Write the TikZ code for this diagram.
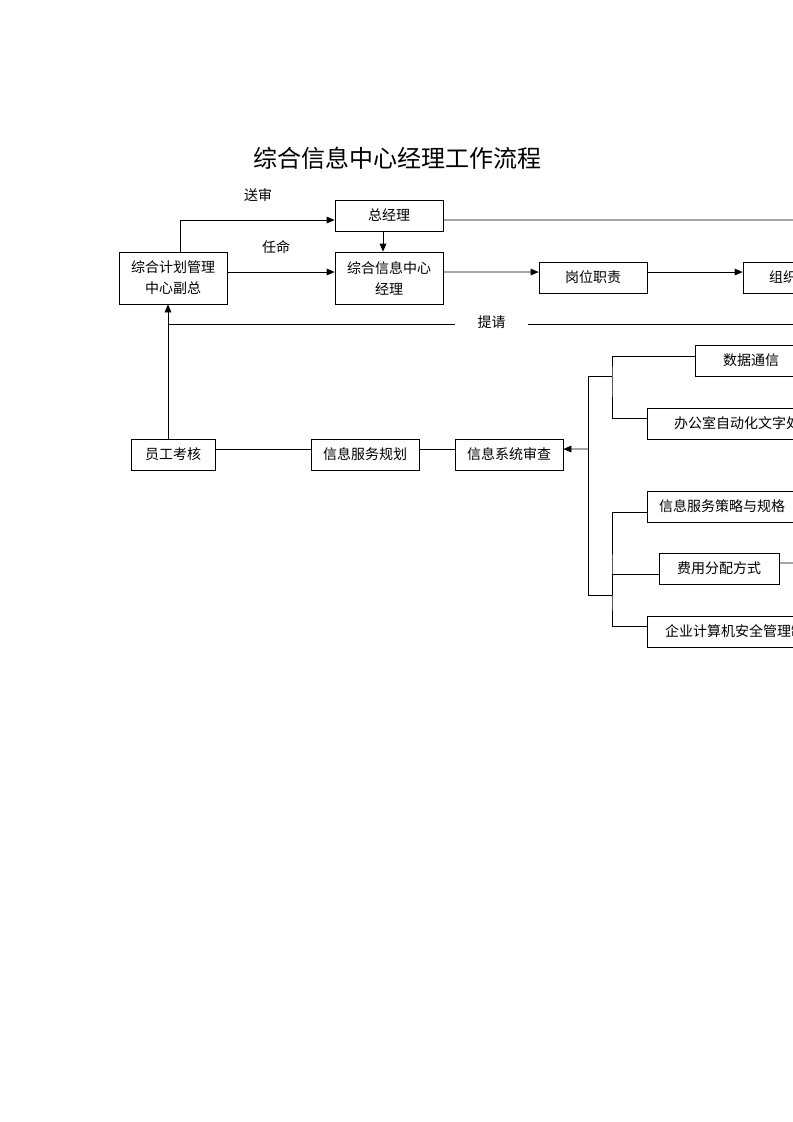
\documentclass[tikz,border=0pt]{standalone}
\usepackage{fontspec}
\setmainfont{Noto Sans CJK SC}
\newfontfamily\titlefont{Noto Sans CJK SC}
\usepackage{tikz}
\usetikzlibrary{calc,arrows.meta,positioning}
\tikzset{
  ln/.style={line width=0.6pt,black},
  ar/.style={ln,-{Triangle[length=6pt,width=5pt]}},
  box/.style={draw,line width=0.6pt,align=center,inner sep=0pt,minimum width=81pt,minimum height=23.25pt,font=\fontsize{10.5}{15.75}\selectfont},
  tall/.style={box,minimum height=39pt},
  lbl/.style={font=\fontsize{10.5}{15.75}\selectfont,inner sep=0pt}
}

\begin{document}
\begin{tikzpicture}[x=0.75pt,y=-0.75pt]
\useasboundingbox (0,0) rectangle (793,1122);
\clip (0,0) rectangle (793,1122);
\node[font=\titlefont\fontsize{18}{20}\selectfont] (title) at (397,158) {综合信息中心经理工作流程};
\node[box] (zjl) at (389,215.5) {总经理};
\node[tall] (fz) at (173,278) {综合计划管理\\中心副总};
\node[tall] (jl) at (389,278) {综合信息中心\\经理};
\node[box] (gw) at (593,277.5) {岗位职责};
\node[box] (zz) at (797,277.5) {组织结构};
\node[box,minimum width=63pt] (yg) at (173,454.5) {员工考核};
\node[box] (gh) at (365,454.5) {信息服务规划};
\node[box] (sc) at (509,454.5) {信息系统审查};
\node[box,minimum width=84pt] (sj) at (751,360.5) {数据通信};
\node[box,minimum width=145.5pt] (bg) at (744,423.5) {办公室自动化文字处理};
\node[box,minimum width=112.5pt] (cl) at (722,506.5) {信息服务策略与规格};
\node[box,minimum width=90pt] (fy) at (719,568.5) {费用分配方式};
\node[box,minimum width=142.5pt] (aq) at (742,631.5) {企业计算机安全管理制度};
\node[lbl] (ss) at (258,195) {送审};
\node[lbl] (rm) at (276,247) {任命};
\node[lbl,minimum width=54.75pt] (tq) at (491.5,324) {\raisebox{3pt}{提请}};
\coordinate (r1) at (800,220);
\coordinate (r2) at (800,324);
\coordinate (r3) at (800,563);
\coordinate (up) at ([xshift=-3.75pt]fz.south);
\coordinate (b0) at (588,449);
\coordinate (bt) at (588,376);
\coordinate (bb) at (588,595);
\coordinate (u1) at (612,376);
\coordinate (l1) at (612,595);
\draw[ar] ([xshift=5.25pt]fz.north) |- ([yshift=-3.4pt]zjl.west);
\draw[ln] ([yshift=-3.4pt]zjl.east) -- (r1);
\draw[ar] ([xshift=-4.5pt]zjl.south) -- ([xshift=-4.5pt]jl.north);
\draw[ar] ([yshift=4.5pt]fz.east) -- ([yshift=4.5pt]jl.west);
\draw[ar] ([yshift=4.5pt]jl.east) -- ([yshift=4.1pt]gw.west);
\draw[ar] ([yshift=4.1pt]gw.east) -- ([yshift=4.1pt]zz.west);
\draw[ln] (r2) -- (tq.east);
\draw[ln] (tq.west) -- (tq.west -| up);
\draw[ar] ([xshift=-3.75pt]yg.north) -- (up);
\draw[ln] ([yshift=4.1pt]yg.east) -- ([yshift=4.1pt]gh.west);
\draw[ln] ([yshift=4.1pt]gh.east) -- ([yshift=4.1pt]sc.west);
\draw[ar] (b0) -- ([yshift=4.1pt]sc.east);
\draw[ln] (bt) -- (bb);
\draw[ln] (bt) -- (u1);
\draw[ln] (bb) -- (l1);
\draw[ln] ([yshift=3.4pt]sj.west) -| (u1) |- ([yshift=4.1pt]bg.west);
\draw[ln] ([yshift=-4.1pt]cl.west) -| (l1) |- ([yshift=4.1pt]aq.west);
\draw[ln] ([yshift=-4.1pt]fy.west) -| (l1);
\draw[ln] ([yshift=4.1pt]fy.east) -- (r3);
\end{tikzpicture}
\end{document}
